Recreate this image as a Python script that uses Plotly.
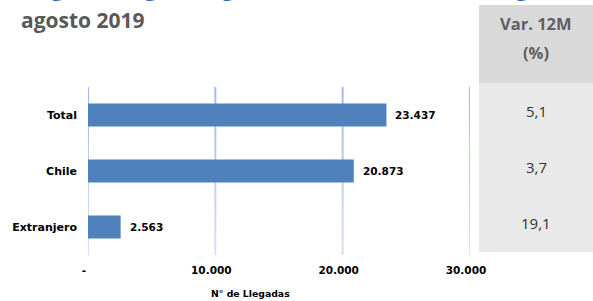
import plotly.graph_objects as go

categories = ["Total", "Chile", "Extranjero"]
llegadas = [23437, 20873, 2563]
var_12m = ["5,1", "3,7", "19,1"]
tick_vals = [0, 10000, 20000, 30000]
tick_text = ["-", "10.000", "20.000", "30.000"]
heading_top = "Llegadas según origen de los turistas, total regional"
heading_sub = "agosto 2019"

W, H = 593, 301
L, R, T, B = 88, 470, 87, 255


def PX(x):
    return x / W


def PY(y):
    return 1 - y / H


BOLD = dict(family="DejaVu Sans", color="black", weight="bold")

fig = go.Figure()
fig.add_trace(go.Bar(
    x=llegadas, y=categories, orientation="h",
    marker=dict(color="#4f81bd", line=dict(width=0)),
    width=0.41, hoverinfo="skip",
))

# first heading line, cut off by the top edge (clipped to a 4 px strip)
fig.add_trace(go.Scatter(
    x=[19], y=[-9.5], mode="text", text=[heading_top], textposition="middle right",
    textfont=dict(family="Open Sans", size=22, color="#2e6bb8", weight="bold"),
    xaxis="x2", yaxis="y2", cliponaxis=True, hoverinfo="skip",
))

annotations = []
for c, v in zip(categories, llegadas):
    annotations.append(dict(
        x=v, y=c, xref="x", yref="y", text=f"{v:,}".replace(",", "."),
        showarrow=False, xanchor="left", yanchor="middle", xshift=7,
        font=dict(size=10.5, **BOLD),
    ))
for c, v in zip(categories, var_12m):
    annotations.append(dict(
        x=PX(536), y=c, xref="paper", yref="y", text=v,
        showarrow=False, xanchor="center", yanchor="middle", yshift=4,
        font=dict(family="Open Sans", size=15, color="#333333"),
    ))
annotations += [
    dict(x=PX(536), y=PY(24), xref="paper", yref="paper", text="<b>Var. 12M</b>",
         showarrow=False, xanchor="center", yanchor="middle",
         font=dict(family="Open Sans", size=16.5, color="#5f5f5f")),
    dict(x=PX(536), y=PY(52), xref="paper", yref="paper", text="<b>(%)</b>",
         showarrow=False, xanchor="center", yanchor="middle",
         font=dict(family="Open Sans", size=16.5, color="#5f5f5f")),
    dict(x=PX(19), y=PY(20), xref="paper", yref="paper", text="<b>" + heading_sub + "</b>",
         showarrow=False, xanchor="left", yanchor="middle",
         font=dict(family="Open Sans", size=21, color="#595959")),
    dict(x=PX(250), y=PY(293), xref="paper", yref="paper", text="N° de Llegadas",
         showarrow=False, xanchor="center", yanchor="middle",
         font=dict(size=9.3, **BOLD)),
]

shapes = [
    dict(type="rect", xref="paper", yref="paper", x0=PX(479), x1=PX(594), y0=PY(83), y1=PY(5),
         fillcolor="#d9d9d9", line=dict(width=0), layer="below"),
    dict(type="rect", xref="paper", yref="paper", x0=PX(479), x1=PX(594), y0=PY(252), y1=PY(83),
         fillcolor="#e9e9e9", line=dict(width=0), layer="below"),
]

# vertical gridlines with a top-to-bottom fade
top_rgb = (0xA2, 0xBB, 0xE8)
bot_rgb = (0xD8, 0xE2, 0xF4)
nseg = 14
for tv in tick_vals:
    for i in range(nseg):
        f = (i + 0.5) / nseg
        col = tuple(round(a + (b - a) * f) for a, b in zip(top_rgb, bot_rgb))
        ya = T + (B - T) * i / nseg
        yb = T + (B - T) * (i + 1) / nseg
        shapes.append(dict(
            type="line", xref="x", yref="paper", x0=tv, x1=tv,
            y0=PY(ya), y1=PY(yb),
            line=dict(color="rgb(%d,%d,%d)" % col, width=2), layer="below",
        ))

fig.update_layout(
    width=W, height=H,
    margin=dict(l=0, r=0, t=0, b=0, pad=0, autoexpand=False),
    paper_bgcolor="white", plot_bgcolor="rgba(0,0,0,0)",
    showlegend=False,
    annotations=annotations, shapes=shapes,
    xaxis=dict(domain=[L / W, R / W], range=[0, 30000], tickvals=tick_vals, ticktext=tick_text,
               showgrid=False, zeroline=False, anchor="y",
               showline=False, ticks="", ticklabelshift=-4, ticklabelstandoff=7,
               tickfont=dict(size=10.5, **BOLD)),
    yaxis=dict(domain=[1 - B / H, 1 - T / H], autorange="reversed", anchor="x",
               showgrid=False, zeroline=False, showline=False,
               ticks="", ticklabelstandoff=10,
               tickfont=dict(size=11, **BOLD)),
    xaxis2=dict(domain=[0, 1], range=[0, W], anchor="y2", visible=False, fixedrange=True),
    yaxis2=dict(domain=[1 - 4 / H, 1], range=[4, 0], anchor="x2", visible=False, fixedrange=True),
)

fig.write_html("out.html", config={"displayModeBar": False},
               post_script="document.body.style.margin='0px';")
